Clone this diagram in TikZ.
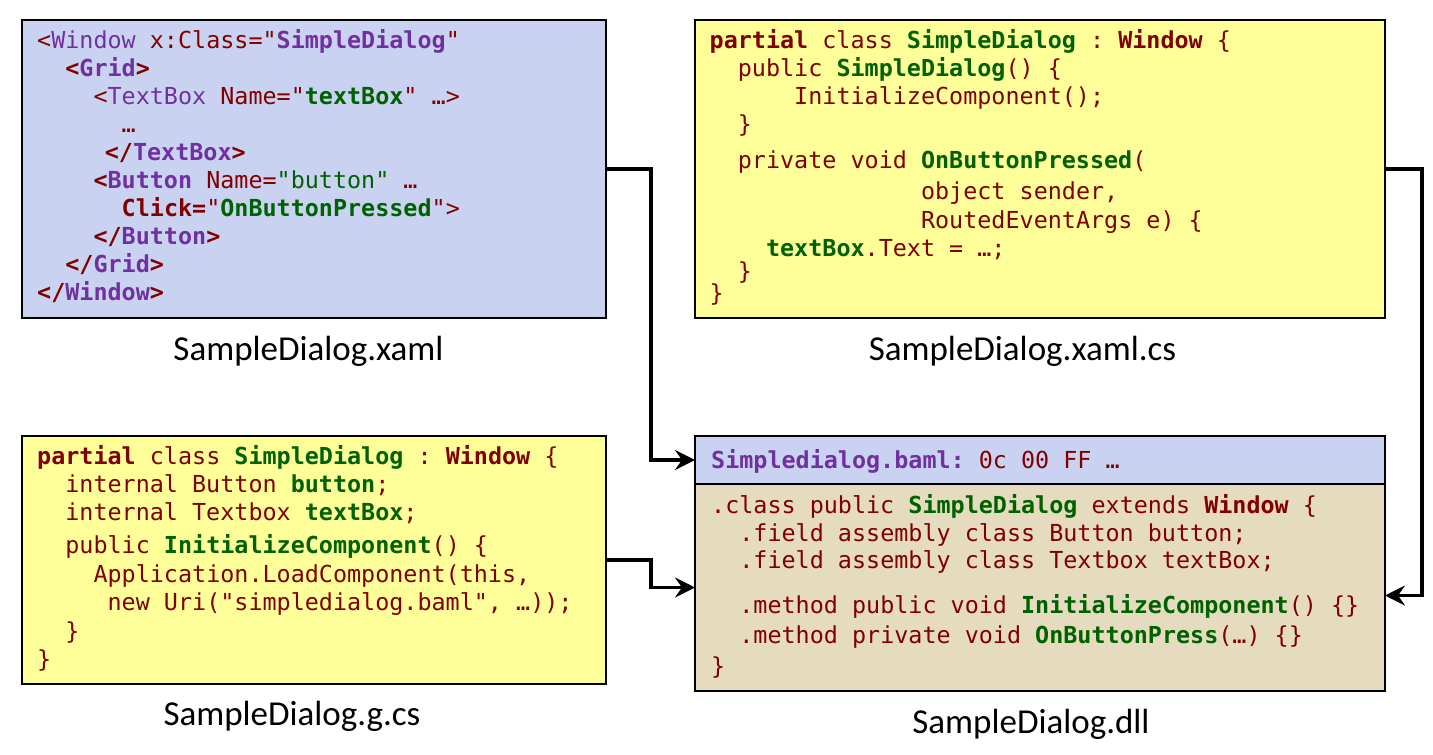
\documentclass[tikz,border=0pt]{standalone}
\usepackage{fontspec}
\usepackage{xcolor}
\usepackage{tikz}
\usetikzlibrary{arrows.meta}
\newfontfamily\codefont{DejaVu Sans Mono}
\newfontfamily\lblfont{Carlito}
\definecolor{cred}{RGB}{128,0,0}
\definecolor{cpurple}{RGB}{112,48,160}
\definecolor{cgreen}{RGB}{0,97,0}
\definecolor{cblue}{RGB}{201,211,241}
\definecolor{cyellow}{RGB}{255,255,153}
\definecolor{ctan}{RGB}{229,220,192}
\newlength{\chw}\setlength{\chw}{14.09pt}
\newcommand{\ind}[1]{\hspace*{#1\chw}}
\newcommand{\pu}[1]{\textcolor{cpurple}{#1}}
\newcommand{\gn}[1]{\textcolor{cgreen}{#1}}
\newcommand{\bd}[1]{\textbf{#1}}
\newcommand{\fl}{\rule{0pt}{20pt}}
\tikzset{
  panel/.style ={draw, line width=1.2pt, anchor=north west, inner sep=0pt, outer sep=0pt},
  code/.style  ={anchor=north west, inner sep=0pt, align=left, text=cred,
                 font={\codefont\fontsize{23.4}{28}\selectfont\frenchspacing\lineskiplimit=-50pt}},
  lbl/.style   ={anchor=base, inner sep=0pt, font={\lblfont\fontsize{35}{42}\selectfont}},
  conn/.style  ={-{Stealth[length=20pt,width=20pt,inset=7pt]}, line width=3.2pt},
}
\begin{document}
\begin{tikzpicture}[x=1pt,y=-1pt]
  \useasboundingbox (0,0) rectangle (1433,755);
  % source files and the compiled assembly
  \node[panel, fill=cblue,   minimum width=584pt, minimum height=298pt] (xaml)     at (22,20)   {};
  \node[panel, fill=cyellow, minimum width=690pt, minimum height=298pt] (xamlcs)   at (695,20)  {};
  \node[panel, fill=cyellow, minimum width=584pt, minimum height=248pt] (gcs)      at (22,436)  {};
  \node[panel, fill=cblue,   minimum width=690pt, minimum height=48pt]  (bamlhead) at (695,436) {};
  \node[panel, fill=ctan,    minimum width=690pt, minimum height=207pt] (dllbody)  at (695,484) {};
  % code listings
  \node[code] (xamlcode) at (37,28) {\fl<\pu{Window} x:Class="\pu{\bd{SimpleDialog}}"\\
    \ind{2}\bd{<\pu{Grid}>}\\
    \ind{4}<\pu{TextBox} Name="\gn{\bd{textBox}}" …>\\
    \ind{6}…\\
    \ind{4.8}\bd{</\pu{TextBox}>}\\
    \ind{4}\bd{<\pu{Button}} Name=\gn{"button"} …\\
    \ind{6}\bd{Click=}"\gn{\bd{OnButtonPressed}}">\\
    \ind{4}\bd{</\pu{Button}>}\\
    \ind{2}\bd{</\pu{Grid}>}\\
    \bd{</\pu{Window}>}};
  \node[code] (xamlcscode) at (709.5,28) {\fl\bd{partial} class \gn{\bd{SimpleDialog}} : \bd{Window} \{\\
    \ind{2}public \gn{\bd{SimpleDialog}}() \{\\
    \ind{6}InitializeComponent();\\
    \ind{2}\}\\[8pt]
    \ind{2}private void \gn{\bd{OnButtonPressed}}(\\[3pt]
    \ind{15}object sender,\\[1pt]
    \ind{15}RoutedEventArgs e) \{\\
    \ind{4}\gn{\bd{textBox}}.Text = …;\\[-5pt]
    \ind{2}\}\\[-6pt]
    \}};
  \node[code] (gcscode) at (37,444) {\fl\bd{partial} class \gn{\bd{SimpleDialog}} : \bd{Window} \{\\
    \ind{2}internal Button \gn{\bd{button}};\\
    \ind{2}internal Textbox \gn{\bd{textBox}};\\[5pt]
    \ind{2}public \gn{\bd{InitializeComponent}}() \{\\[1pt]
    \ind{4}Application.LoadComponent(this,\\
    \ind{5}new Uri("simpledialog.baml", …));\\[1pt]
    \ind{2}\}\\
    \}};
  \node[code] (bamltext) at (711,448) {\fl\pu{\bd{Simpledialog.baml:}} 0c 00 FF …};
  \node[code] (dllcode) at (711,493) {\fl.class public \gn{\bd{SimpleDialog}} extends \bd{Window} \{\\
    \ind{2}.field assembly class Button button;\\[-1pt]
    \ind{2}.field assembly class Textbox textBox;\\[17pt]
    \ind{2}.method public void \gn{\bd{InitializeComponent}}() \{\}\\[2pt]
    \ind{2}.method private void \gn{\bd{OnButtonPress}}(…) \{\}\\[3pt]
    \}};
  % file names
  \node[lbl] (xamllbl)   at (308.5,360) {SampleDialog.xaml};
  \node[lbl] (xamlcslbl) at (1022.5,360) {SampleDialog.xaml.cs};
  \node[lbl] (gcslbl)    at (292,725) {SampleDialog.g.cs};
  \node[lbl] (dlllbl)    at (1031,733) {SampleDialog.dll};
  % compilation flow
  \draw[conn] (xaml.east) -- ++(45,0) |- (bamlhead.west);
  \draw[conn] (gcs.east) -- ++(45,0) |- (dllbody.west);
  \draw[conn] (xamlcs.east) -- ++(37,0) |- ([yshift=-8pt]dllbody.east);
\end{tikzpicture}
\end{document}
